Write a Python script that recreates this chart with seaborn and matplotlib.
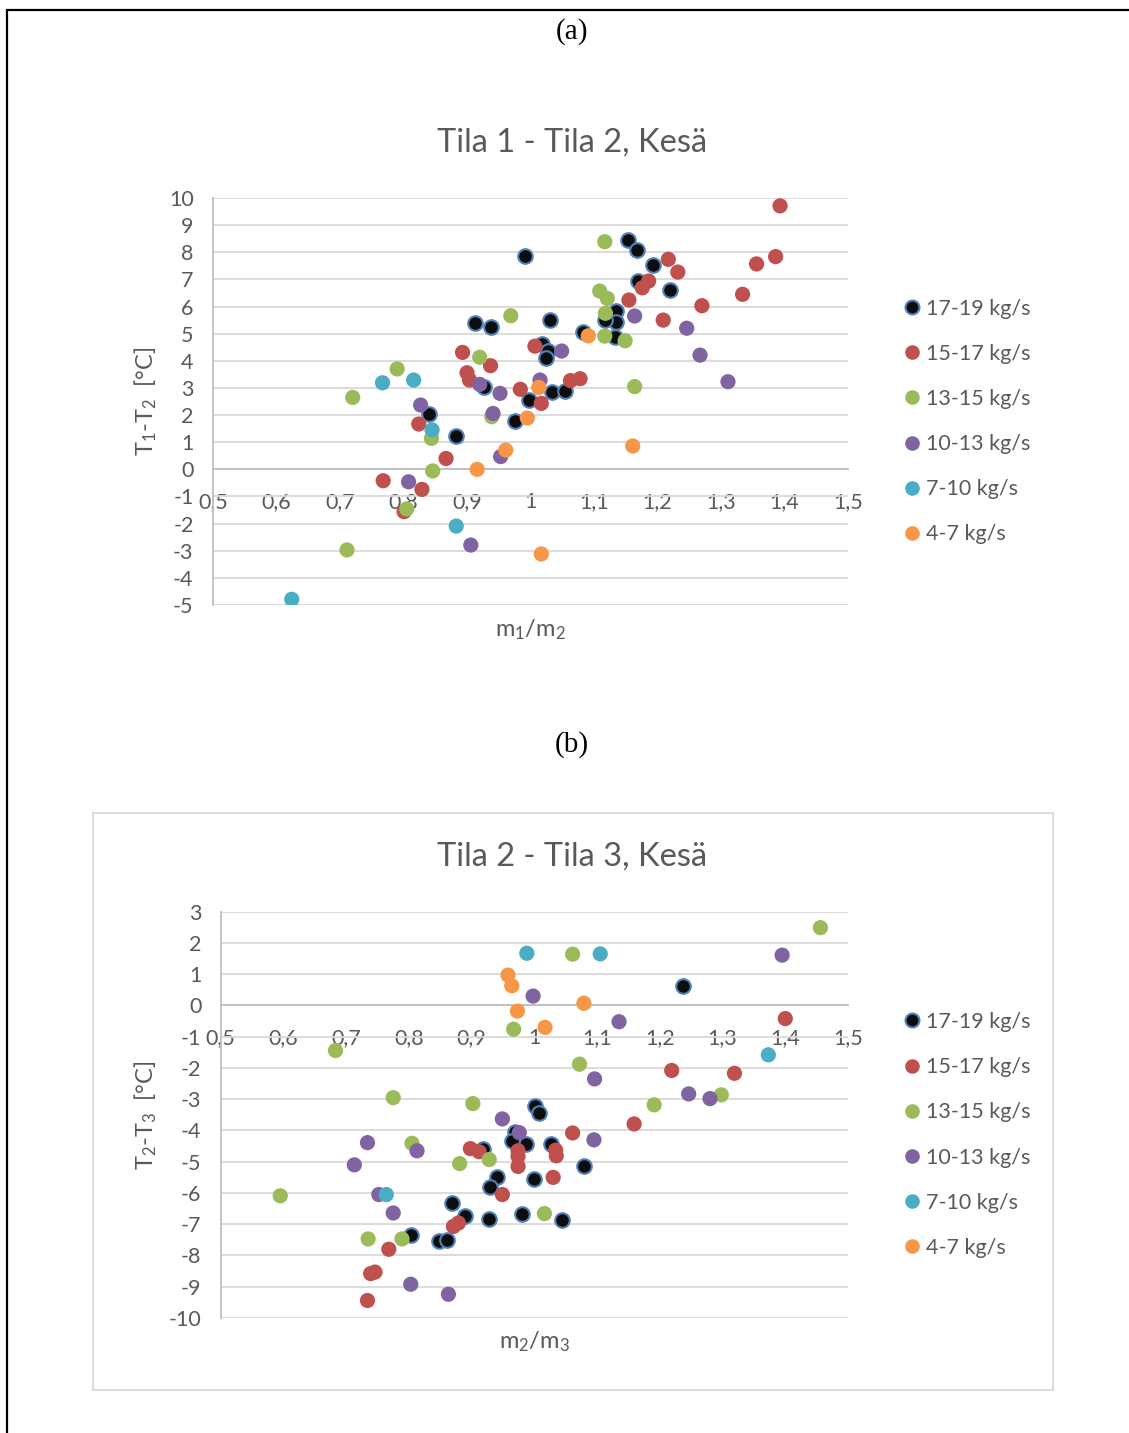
import matplotlib
matplotlib.use("Agg")
import matplotlib.pyplot as plt
from matplotlib.lines import Line2D
from matplotlib.patches import Rectangle
import seaborn as sns
import pandas as pd

# ---------------- data ----------------
series_labels = ["17-19 kg/s", "15-17 kg/s", "13-15 kg/s", "10-13 kg/s", "7-10 kg/s", "4-7 kg/s"]
series_colors = ["#0D0D0D", "#C0504D", "#9BBB59", "#8064A2", "#4BACC6", "#F79646"]

x_ticks = [0.5, 0.6, 0.7, 0.8, 0.9, 1.0, 1.1, 1.2, 1.3, 1.4, 1.5]
x_tick_labels = ["0,5", "0,6", "0,7", "0,8", "0,9", "1", "1,1", "1,2", "1,3", "1,4", "1,5"]
a_y_ticks = list(range(-5, 11))
b_y_ticks = list(range(-10, 4))

# (a) Tila 1 - Tila 2
a_x_1719 = [0.992, 0.913, 0.938, 1.030, 1.154, 1.168, 1.193, 1.170, 1.220, 1.134, 1.135, 1.118,
            1.133, 1.083, 1.018, 1.027, 1.025, 0.997, 1.034, 1.055, 0.927, 0.840, 0.976, 0.883]
a_y_1719 = [7.87, 5.40, 5.24, 5.50, 8.45, 8.07, 7.54, 6.95, 6.61, 5.85, 5.44, 5.50,
            4.89, 5.07, 4.61, 4.37, 4.09, 2.55, 2.86, 2.89, 3.02, 2.03, 1.78, 1.23]
a_x_1517 = [1.393, 1.386, 1.356, 1.217, 1.232, 1.186, 1.176, 1.334, 1.270, 1.155, 1.209, 1.007,
            1.078, 1.063, 0.984, 1.017, 0.893, 0.937, 0.900, 0.904, 0.824, 0.867, 0.768, 0.829, 0.801]
a_y_1517 = [9.71, 7.84, 7.57, 7.74, 7.27, 6.94, 6.69, 6.45, 6.03, 6.24, 5.50, 4.54,
            3.34, 3.27, 2.95, 2.43, 4.31, 3.82, 3.56, 3.29, 1.67, 0.40, -0.42, -0.74, -1.56]
a_x_1315 = [1.117, 1.109, 1.121, 1.118, 1.117, 1.149, 1.164, 0.969, 0.920, 0.790, 0.720, 0.939,
            0.844, 0.846, 0.805, 0.711]
a_y_1315 = [8.39, 6.57, 6.30, 5.75, 4.91, 4.74, 3.05, 5.66, 4.13, 3.70, 2.65, 1.94,
            1.14, -0.06, -1.46, -2.97]
a_x_1013 = [1.164, 1.246, 1.267, 1.311, 1.049, 1.015, 0.920, 0.952, 0.827, 0.941, 0.953, 0.808, 0.906]
a_y_1013 = [5.65, 5.20, 4.21, 3.23, 4.36, 3.29, 3.13, 2.80, 2.37, 2.06, 0.47, -0.46, -2.79]
a_x_0710 = [0.767, 0.816, 0.845, 0.883, 0.624]
a_y_0710 = [3.19, 3.29, 1.45, -2.09, -4.79]
a_x_0407 = [1.091, 1.013, 0.995, 0.961, 0.916, 1.161, 1.017]
a_y_0407 = [4.92, 3.02, 1.89, 0.71, 0.00, 0.86, -3.12]

# (b) Tila 2 - Tila 3
b_x_1719 = [1.237, 1.001, 1.007, 1.027, 0.986, 1.079, 0.999, 0.980, 1.044, 0.969, 0.965, 0.918,
            0.941, 0.929, 0.869, 0.889, 0.928, 0.803, 0.848, 0.860]
b_y_1719 = [0.63, -3.21, -3.43, -4.42, -4.43, -5.13, -5.55, -6.66, -6.88, -4.05, -4.35, -4.60,
            -5.49, -5.81, -6.33, -6.73, -6.84, -7.33, -7.55, -7.50]
b_x_1517 = [1.400, 1.219, 1.319, 1.159, 1.061, 1.034, 1.035, 1.030, 0.974, 0.974, 0.974, 0.898,
            0.912, 0.949, 0.871, 0.879, 0.768, 0.739, 0.746, 0.734]
b_y_1517 = [-0.42, -2.08, -2.17, -3.79, -4.08, -4.63, -4.81, -5.50, -4.65, -4.83, -5.15, -4.58,
            -4.68, -6.05, -7.07, -6.96, -7.80, -8.58, -8.53, -9.44]
b_x_1315 = [1.456, 1.061, 0.967, 0.683, 1.072, 1.298, 1.191, 1.016, 0.775, 0.902, 0.805, 0.928,
            0.881, 0.595, 0.789, 0.735]
b_y_1315 = [2.49, 1.64, -0.76, -1.44, -1.88, -2.86, -3.18, -6.66, -2.95, -3.14, -4.41, -4.93,
            -5.06, -6.09, -7.47, -7.47]
b_x_1013 = [1.395, 0.998, 1.135, 1.096, 1.246, 1.280, 1.095, 0.949, 0.976, 0.734, 0.813, 0.713,
            0.752, 0.775, 0.803, 0.863]
b_y_1013 = [1.61, 0.30, -0.52, -2.35, -2.83, -2.98, -4.30, -3.63, -4.07, -4.39, -4.65, -5.10,
            -6.05, -6.64, -8.92, -9.24]
b_x_0710 = [0.988, 1.105, 1.373, 0.764]
b_y_0710 = [1.67, 1.65, -1.58, -6.05]
b_x_0407 = [0.958, 0.964, 0.973, 1.079, 1.017]
b_y_0407 = [0.97, 0.63, -0.18, 0.07, -0.70]

a_xs = [a_x_1719, a_x_1517, a_x_1315, a_x_1013, a_x_0710, a_x_0407]
a_ys = [a_y_1719, a_y_1517, a_y_1315, a_y_1013, a_y_0710, a_y_0407]
b_xs = [b_x_1719, b_x_1517, b_x_1315, b_x_1013, b_x_0710, b_x_0407]
b_ys = [b_y_1719, b_y_1517, b_y_1315, b_y_1013, b_y_0710, b_y_0407]

# ---------------- style ----------------
sns.set_theme(style="white")
plt.rcParams["font.family"] = ["Lato", "DejaVu Sans"]
plt.rcParams["mathtext.fontset"] = "custom"
plt.rcParams["mathtext.rm"] = "Lato"
plt.rcParams["mathtext.it"] = "Lato:italic"
plt.rcParams["mathtext.bf"] = "Lato:bold"

TXT = "#595959"
GRID = "#D9D9D9"
AXC = "#BFBFBF"
W, H = 1129, 1433
fig = plt.figure(figsize=(W / 100, H / 100), dpi=100)
fig.patch.set_facecolor("white")


def fx(px):
    return px / W


def fy(py):
    return 1 - py / H


def make_panel(rect, xs, ys, yticks, title, title_y, xlabel, xlabel_y, ylabel, ylabel_xy, legend_mid_y):
    ax = fig.add_axes(rect)
    for i, (xv, yv) in enumerate(zip(xs, ys)):
        df = pd.DataFrame({"x": xv, "y": yv})
        if i == 0:
            sns.scatterplot(data=df, x="x", y="y", ax=ax, color=series_colors[i], s=110,
                            edgecolor="#4F81BD", linewidth=1.5, legend=False, zorder=3 + i)
        else:
            sns.scatterplot(data=df, x="x", y="y", ax=ax, color=series_colors[i], s=120,
                            edgecolor="none", linewidth=0, legend=False, zorder=3 + i)
    ax.set_xlim(0.5, 1.5)
    ax.set_ylim(min(yticks), max(yticks))
    ax.set_xticks(x_ticks)
    ax.set_xticklabels(x_tick_labels)
    ax.set_yticks(yticks)
    ax.set_yticklabels([str(v) for v in yticks])
    ax.set_xlabel("")
    ax.set_ylabel("")
    ax.grid(axis="y", color=GRID, linewidth=1.3)
    ax.grid(axis="x", visible=False)
    ax.set_axisbelow(True)
    for sp in ["top", "right"]:
        ax.spines[sp].set_visible(False)
    ax.spines["left"].set_color(AXC)
    ax.spines["left"].set_linewidth(1.3)
    ax.spines["bottom"].set_position(("data", 0))
    ax.spines["bottom"].set_color(AXC)
    ax.spines["bottom"].set_linewidth(1.3)
    ax.tick_params(axis="both", length=0, labelsize=15.5, colors=TXT)
    ax.tick_params(axis="x", pad=16.5)
    ax.tick_params(axis="y", pad=14)
    ax.patch.set_alpha(0)

    fig.text(fx(572), fy(title_y), title, ha="center", va="center", fontsize=23.5, color=TXT)
    fig.text(fx(rect[0] * W + rect[2] * W / 2), fy(xlabel_y), xlabel, ha="center", va="center",
             fontsize=17, color=TXT)
    fig.text(fx(ylabel_xy[0]), fy(ylabel_xy[1]), ylabel, ha="center", va="center",
             rotation=90, fontsize=17, color=TXT)

    handles = []
    for i in range(len(series_labels)):
        if i == 0:
            h = Line2D([], [], linestyle="none", marker="o", markersize=10,
                       markerfacecolor=series_colors[i], markeredgecolor="#4F81BD", markeredgewidth=1.5)
        else:
            h = Line2D([], [], linestyle="none", marker="o", markersize=10.5,
                       markerfacecolor=series_colors[i], markeredgecolor="none")
        handles.append(h)
    leg = fig.legend(handles, series_labels, loc="center left",
                     bbox_to_anchor=(fx(903), fy(legend_mid_y)), frameon=False,
                     fontsize=15.5, handlelength=0.8, handletextpad=0.25,
                     labelspacing=1.17, borderpad=0, borderaxespad=0)
    for t in leg.get_texts():
        t.set_color(TXT)
    return ax


# panel (a)
make_panel([fx(213), fy(605), fx(848) - fx(213), fy(198) - fy(605)], a_xs, a_ys, a_y_ticks,
           "Tila 1 - Tila 2, Kesä", 143, r"m$_\mathregular{1}$/m$_\mathregular{2}$", 630,
           r"T$_\mathregular{1}$-T$_\mathregular{2}$  [°C]", (146, 401), 421.5)

# panel (b)
make_panel([fx(220.7), fy(1318), fx(848) - fx(220.7), fy(911.7) - fy(1318)], b_xs, b_ys, b_y_ticks,
           "Tila 2 - Tila 3, Kesä", 857, r"m$_\mathregular{2}$/m$_\mathregular{3}$", 1342,
           r"T$_\mathregular{2}$-T$_\mathregular{3}$  [°C]", (146, 1115), 1135)

# panel labels
fig.text(fx(572), fy(32), "(a)", ha="center", va="center", fontsize=21,
         family=["Liberation Serif", "DejaVu Serif"], color="black")
fig.text(fx(572), fy(745), "(b)", ha="center", va="center", fontsize=21,
         family=["Liberation Serif", "DejaVu Serif"], color="black")

# frame around chart (b)
fig.add_artist(Rectangle((fx(93), fy(1390)), fx(1053) - fx(93), fy(813) - fy(1390),
                         transform=fig.transFigure, fill=False, edgecolor="#D9D9D9", linewidth=1.3))

# outer black border (top and left)
fig.add_artist(Line2D([fx(7), 1.0], [fy(10), fy(10)], transform=fig.transFigure, color="black", linewidth=1.6))
fig.add_artist(Line2D([fx(7), fx(7)], [fy(10), 0.0], transform=fig.transFigure, color="black", linewidth=1.6))

fig.savefig("out.png", dpi=100, facecolor="white")
